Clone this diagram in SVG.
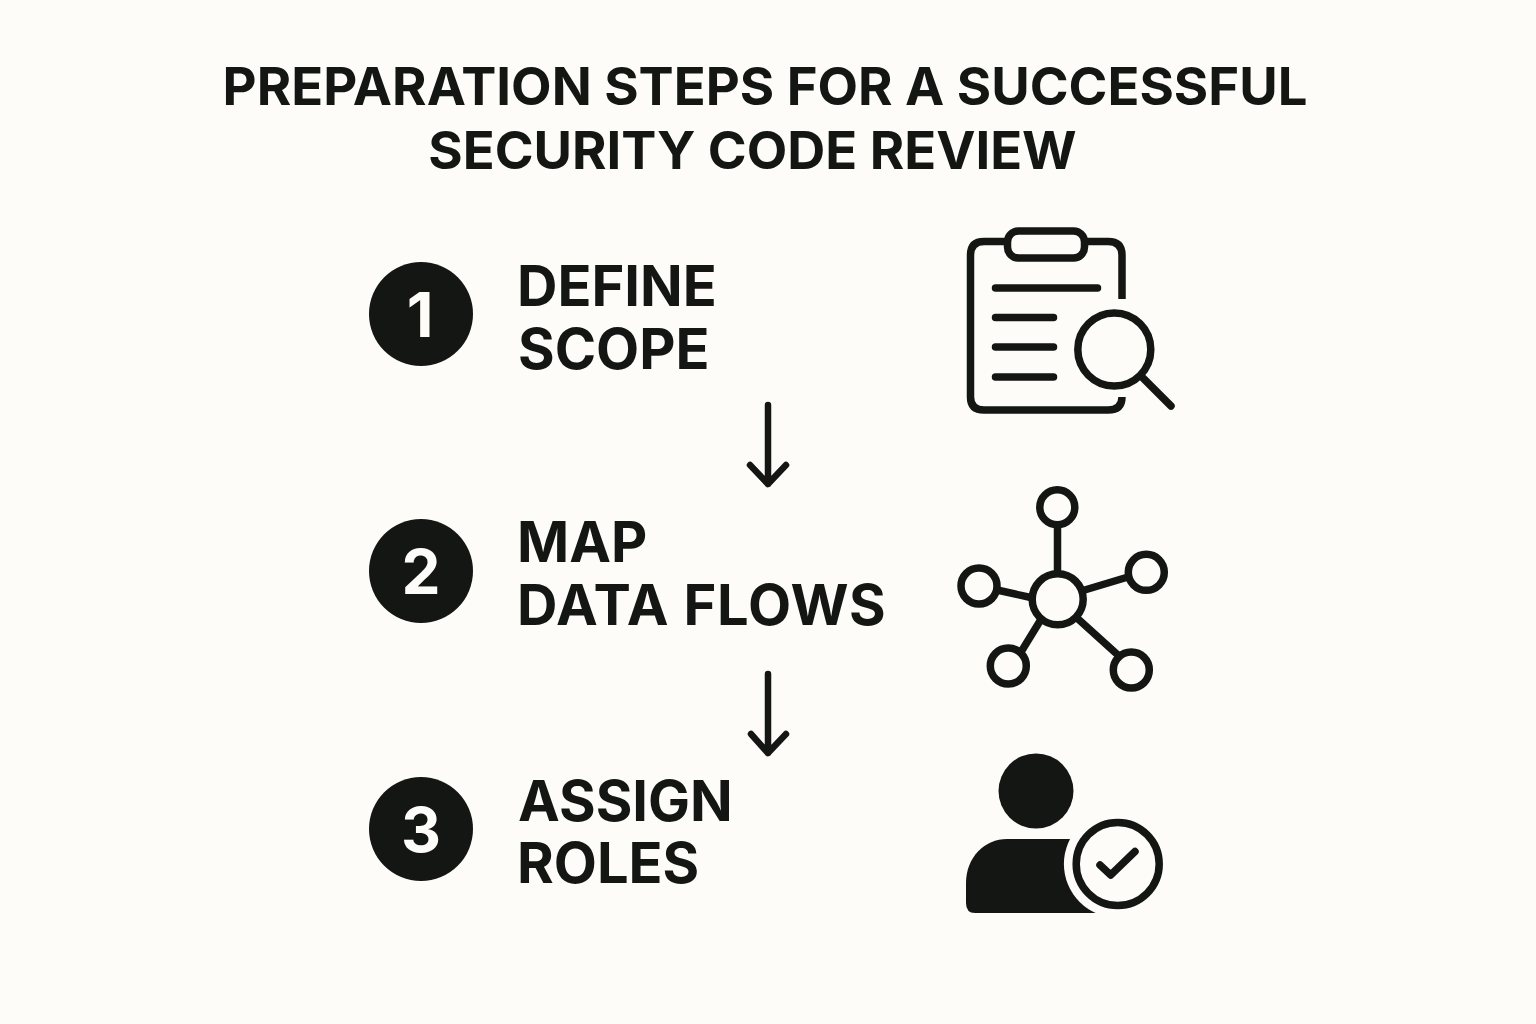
<svg xmlns="http://www.w3.org/2000/svg" width="1536" height="1024" viewBox="0 0 1536 1024">
<style>
text{font-family:"Inter","Liberation Sans",sans-serif;font-weight:700;fill:#141614}
.t{font-size:52.600px}
.s{font-size:56px}
.w{letter-spacing:.8px}
.n{font-size:62px;fill:#fdfcf8;text-anchor:middle}
.l{fill:none;stroke:#141614;stroke-width:7.500;stroke-linecap:round;stroke-linejoin:round}
.a{fill:none;stroke:#141614;stroke-width:6.500;stroke-linecap:round;stroke-linejoin:round}
.c{fill:#141614}
</style>
<rect width="1536" height="1024" fill="#fdfcf8"/>
<g id="title"><text class="t" x="765" y="105" text-anchor="middle">PREPARATION STEPS FOR A SUCCESSFUL</text><text class="t" x="752.500" y="169" text-anchor="middle">SECURITY CODE REVIEW</text></g>
<g id="step1"><circle class="c" cx="421" cy="314" r="52"/><text class="n" x="420" y="337">1</text><text class="s" x="517" y="306">DEFINE</text><text class="s" x="518" y="369">SCOPE</text></g>
<g id="step2"><circle class="c" cx="421" cy="571" r="52"/><text class="n" x="421" y="594">2</text><text class="s" x="517" y="562">MAP</text><text class="s w" x="517" y="625">DATA FLOWS</text></g>
<g id="step3"><circle class="c" cx="421" cy="829" r="52"/><text class="n" x="421" y="852">3</text><text class="s" x="518" y="821">ASSIGN</text><text class="s" x="517" y="883">ROLES</text></g>
<g id="connectors"><path class="a" d="M768 405V484M750 465L768 484L786 465"/><path class="a" d="M768 674V753M751 734L768 753L786 734"/></g>
<g id="icon-clipboard"><path class="l" style="stroke-linecap:butt" d="M1006 241.500H984Q970.500 241.500 970.500 255V397Q970.500 410 984 410H1108Q1122 410 1122 397M1086 241.500H1108Q1122 241.500 1122 255V299"/><rect class="l" x="1007.500" y="231" width="77" height="27" rx="11"/><path class="l" d="M995.500 288H1097.500M995.500 317.500H1053.500M995.500 347H1053.500M995.500 377H1053.500"/><circle class="l" cx="1114.300" cy="349.500" r="36.500"/><path class="l" d="M1143 378L1171 406"/></g>
<g id="icon-network"><circle class="l" cx="1057.700" cy="599.300" r="25.500"/><circle class="l" cx="1057.300" cy="507.300" r="17.500"/><circle class="l" cx="979" cy="586" r="18"/><circle class="l" cx="1146.300" cy="572.300" r="18"/><circle class="l" cx="1008.300" cy="666" r="18"/><circle class="l" cx="1131.300" cy="670" r="18"/><path class="l" style="stroke-linecap:butt" d="M1057.500 525V574M997 590L1033 598M1128 577L1083 590.500M1021 652L1040 621M1119 656L1077 618"/></g>
<g id="icon-user"><circle class="c" cx="1036" cy="791" r="37.500"/><path class="c" d="M966 903V883C966 857 985 839 1007 839H1080L1100 913H975Q966 913 966 903Z"/><circle cx="1117.700" cy="864" r="53.800" fill="#fdfcf8"/><circle class="l" cx="1117.700" cy="864" r="41.500"/><path class="l" d="M1100 865L1110.700 875L1135 851.500"/></g>
</svg>
